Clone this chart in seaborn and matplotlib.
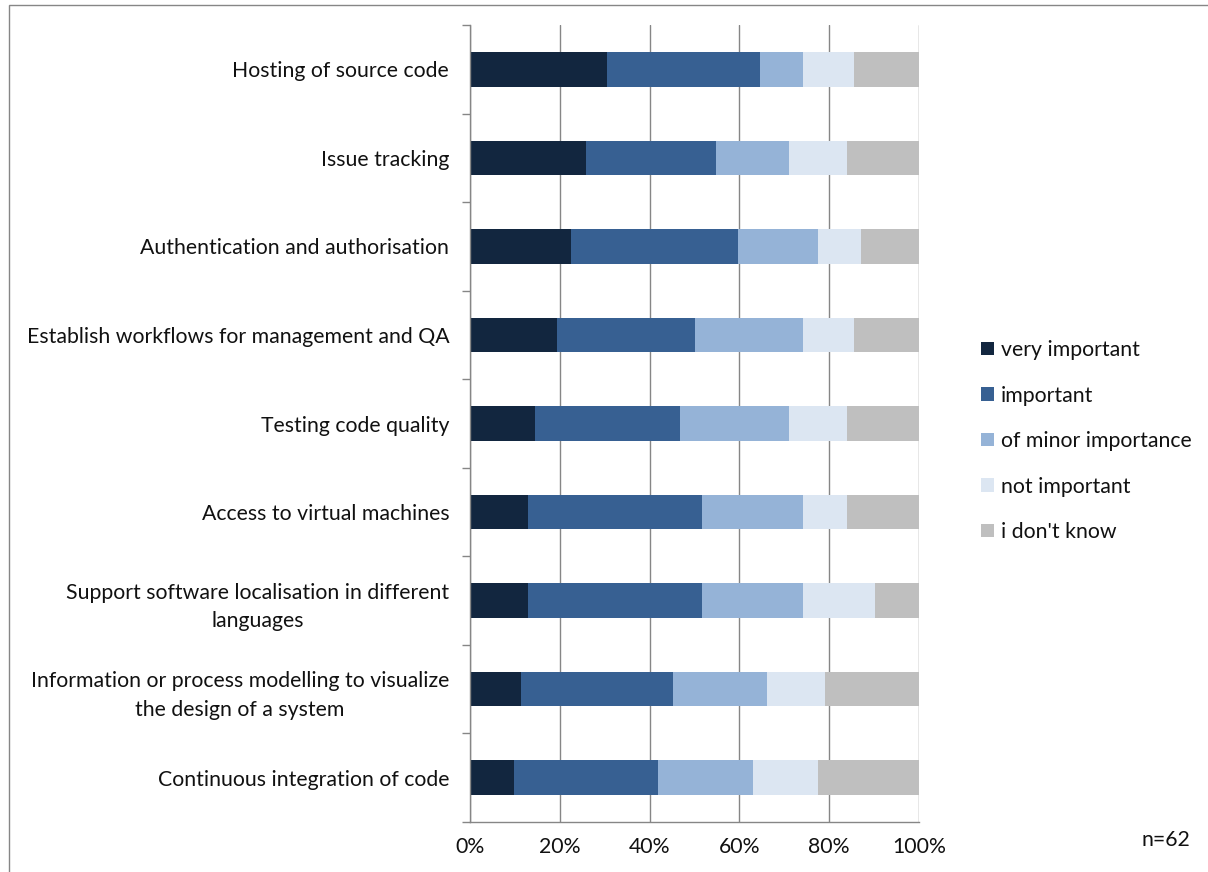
import numpy as np
import pandas as pd
import matplotlib
matplotlib.use('Agg')
import matplotlib.pyplot as plt
import seaborn as sns
from matplotlib.patches import Patch, Rectangle
from matplotlib.ticker import MultipleLocator, FixedLocator, PercentFormatter

# categories, top to bottom
features = [
    "Hosting of source code",
    "Issue tracking",
    "Authentication and authorisation",
    "Establish workflows for management and QA",
    "Testing code quality",
    "Access to virtual machines",
    "Support software localisation in different\nlanguages",
    "Information or process modelling to visualize\nthe design of a system",
    "Continuous integration of code",
]

# shares in % (n=62)
very_important = [30.6, 25.8, 22.6, 19.4, 14.5, 12.9, 12.9, 11.3, 9.7]
important      = [33.9, 29.0, 37.1, 30.6, 32.3, 38.7, 38.7, 33.9, 32.3]
minor          = [9.7, 16.1, 17.7, 24.2, 24.2, 22.6, 22.6, 21.0, 21.0]
not_important  = [11.3, 12.9, 9.7, 11.3, 12.9, 9.7, 16.1, 12.9, 14.5]
dont_know      = [14.5, 16.1, 12.9, 14.5, 16.1, 16.1, 9.7, 21.0, 22.6]

series_names = ["very important", "important", "of minor importance",
                "not important", "i don't know"]
colors = ["#12263F", "#376092", "#95B3D7", "#DCE6F2", "#BFBFBF"]

df = pd.DataFrame({
    "feature": features,
    "very important": very_important,
    "important": important,
    "of minor importance": minor,
    "not important": not_important,
    "i don't know": dont_know,
})
# normalise each row to 100 so the stack ends exactly at the axis end
totals = df[series_names].sum(axis=1)
for s in series_names:
    df[s] = df[s] / totals * 100
cum = df[series_names].cumsum(axis=1)

sns.set_style("white")
plt.rcParams['font.family'] = ['Lato', 'DejaVu Sans']

FS = 15.3
TXT = "#111111"

fig = plt.figure(figsize=(12.08, 8.72), dpi=100)
ax = fig.add_axes([470 / 1208, 50 / 872, 449 / 1208, 797 / 872])

# stacked bars: draw cumulative totals from the longest to the shortest
for name, col in zip(reversed(series_names), reversed(colors)):
    sns.barplot(x=cum[name], y=df["feature"], orient="h", color=col,
                width=0.39, saturation=1, linewidth=0, ax=ax)

ax.set_xlim(0, 100)
ax.set_ylim(8.5, -0.5)
ax.set_xlabel("")
ax.set_ylabel("")

# x axis
ax.xaxis.set_major_locator(MultipleLocator(20))
ax.xaxis.set_minor_locator(MultipleLocator(5))
ax.xaxis.set_major_formatter(PercentFormatter(decimals=0))
ax.tick_params(axis="x", which="major", direction="out", length=6,
               width=1, color="#868686", labelsize=FS, pad=5,
               labelcolor=TXT)
ax.tick_params(axis="x", which="minor", direction="in", length=5,
               width=1, color="#868686")
ax.grid(axis="x", which="major", color="#868686", linewidth=1)
ax.set_axisbelow(True)

# y axis: labels at centres, tick marks at category boundaries
ax.yaxis.set_minor_locator(FixedLocator(np.arange(-0.5, 9, 1)))
ax.tick_params(axis="y", which="major", length=0, labelsize=FS, pad=15,
               labelcolor=TXT)
ax.tick_params(axis="y", which="minor", direction="out", length=6,
               width=1, color="#868686", left=True)
for t in ax.get_yticklabels():
    t.set_multialignment("center")
    t.set_linespacing(1.55)

for side in ["top", "right"]:
    ax.spines[side].set_visible(False)
for side in ["left", "bottom"]:
    ax.spines[side].set_color("#868686")
    ax.spines[side].set_linewidth(1)

# legend
handles = [Patch(facecolor=c, edgecolor="none", label=n)
           for n, c in zip(series_names, colors)]
fig.legend(handles=handles, loc="center left",
           bbox_to_anchor=(972 / 1208, 1 - 441 / 872), frameon=False,
           fontsize=FS, handlelength=0.62, handleheight=0.62,
           handletextpad=0.35, labelspacing=1.2, borderaxespad=0,
           labelcolor=TXT)

fig.text(1190 / 1208, 1 - 840 / 872, "n=62", ha="right", va="center",
         fontsize=FS, color=TXT)

# chart area border (only top and left edges are visible in the crop)
fig.patches.append(Rectangle((9 / 1208, -0.1), 1.2, 0.1 + (872 - 5) / 872,
                             transform=fig.transFigure, fill=False,
                             edgecolor="#868686", linewidth=1))

plt.savefig("out.png", dpi=100)
